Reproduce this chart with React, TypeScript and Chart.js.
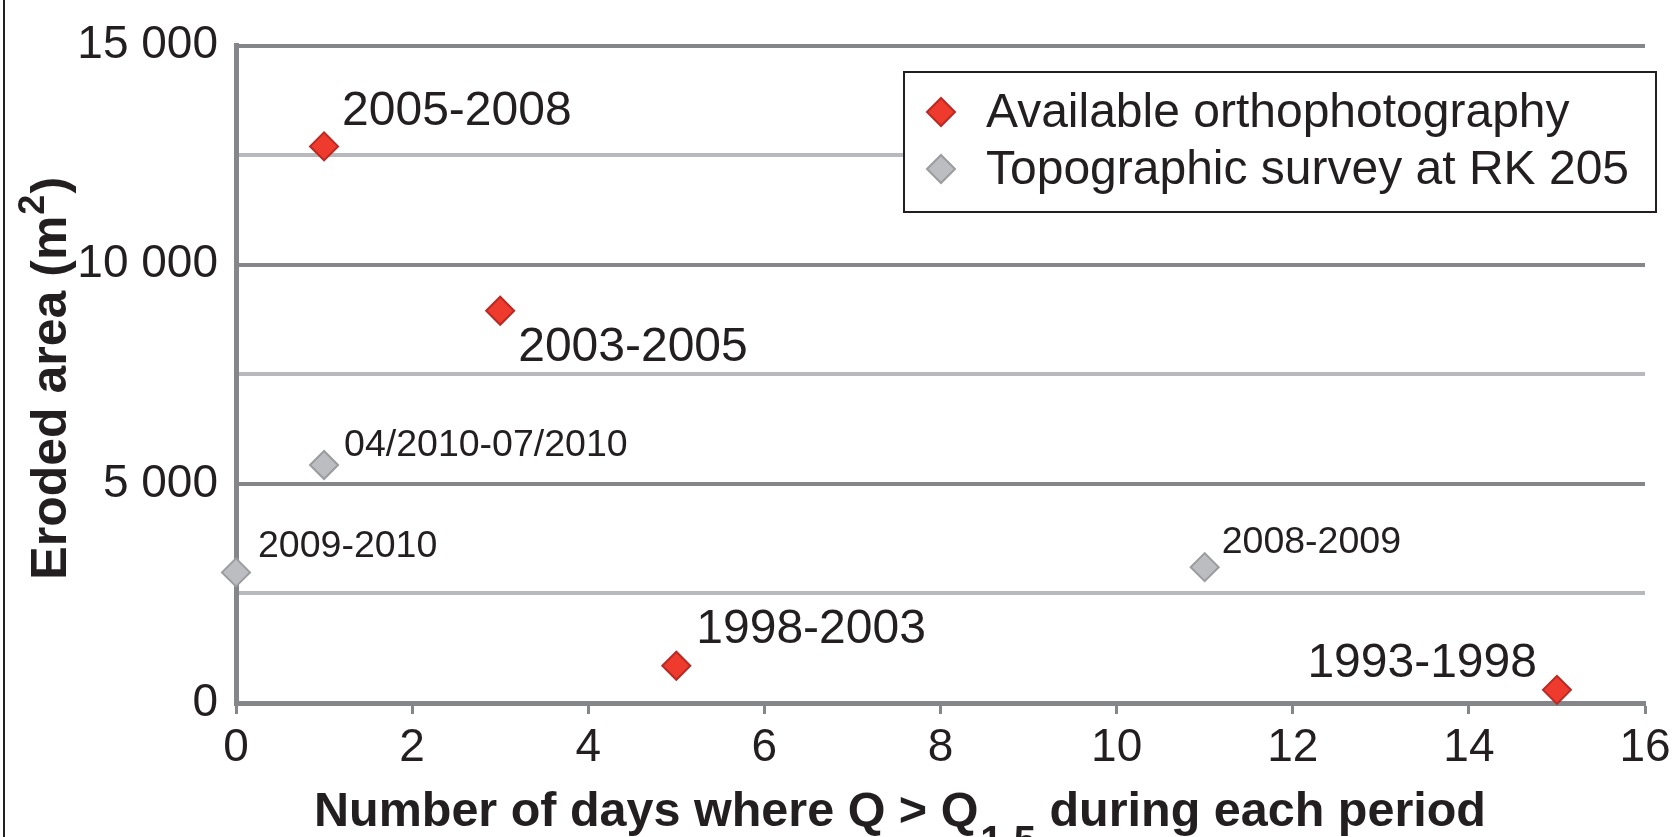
import React, { useEffect, useRef } from "react";
import { Chart, registerables } from "chart.js";

Chart.register(...registerables);

// ---- Data ----
const seriesNames = ["Available orthophotography", "Topographic survey at RK 205"];

const orthoDays = [1, 3, 5, 15];
const orthoArea = [12700, 8950, 850, 300];
const orthoLabels = ["2005-2008", "2003-2005", "1998-2003", "1993-1998"];

const surveyDays = [1, 0, 11];
const surveyArea = [5430, 2980, 3100];
const surveyLabels = ["04/2010-07/2010", "2009-2010", "2008-2009"];

const xMin = 0;
const xMax = 16;
const xStep = 2;
const yMin = 0;
const yMax = 15000;
const yGridStep = 2500;
const yLabelStep = 5000;

const xTitleMain = "Number of days where Q > Q";
const xTitleSub = "1.5";
const xTitleEnd = " during each period";
const yTitleMain = "Eroded area (m";
const yTitleSup = "2";
const yTitleEnd = ")";

// ---- Styling (kept separate from data) ----
const FONT = "'Liberation Sans', Arial, Helvetica, sans-serif";
const TEXT = "#231f20";
const AXIS_DARK = "#85868a";
const GRID_LIGHT = "#b8b9bc";
const RED_FILL = "#ee3b2d";
const RED_BORDER = "#b92a25";
const GRAY_FILL = "#bcbdc0";
const GRAY_BORDER = "#9a9ca0";

// label placement relative to each point: [dx, dy(baseline), align, fontSize]
const orthoLabelPlace: [number, number, CanvasTextAlign, number][] = [
  [18, -21, "left", 48],
  [18, 50, "left", 48],
  [20, -23, "left", 48],
  [-20, -13, "right", 48],
];
const surveyLabelPlace: [number, number, CanvasTextAlign, number][] = [
  [20, -9, "left", 37.5],
  [22, -15, "left", 37.5],
  [17, -14, "left", 37.5],
];

function fmtThousands(v: number): string {
  if (v === 0) return "0";
  const th = Math.floor(v / 1000);
  const rest = v % 1000;
  return `${th} ${String(rest).padStart(3, "0")}`;
}

function diamond(ctx: CanvasRenderingContext2D, x: number, y: number, r: number, fill: string, stroke: string) {
  ctx.beginPath();
  ctx.moveTo(x - r, y);
  ctx.lineTo(x, y - r);
  ctx.lineTo(x + r, y);
  ctx.lineTo(x, y + r);
  ctx.closePath();
  ctx.fillStyle = fill;
  ctx.fill();
  ctx.lineWidth = 2;
  ctx.strokeStyle = stroke;
  ctx.stroke();
}

const decorPlugin = {
  id: "decor",
  afterDatasetsDraw(chart: any) {
    const ctx: CanvasRenderingContext2D = chart.ctx;
    const ca = chart.chartArea;
    ctx.save();
    ctx.fillStyle = TEXT;
    ctx.textBaseline = "alphabetic";

    // point labels
    const groups: [string[], [number, number, CanvasTextAlign, number][]][] = [
      [orthoLabels, orthoLabelPlace],
      [surveyLabels, surveyLabelPlace],
    ];
    groups.forEach(([labels, place], di) => {
      const meta = chart.getDatasetMeta(di);
      meta.data.forEach((pt: any, i: number) => {
        const [dx, dy, align, size] = place[i];
        ctx.font = `${size}px ${FONT}`;
        ctx.textAlign = align;
        ctx.fillText(labels[i], pt.x + dx, pt.y + dy);
      });
    });

    // legend box
    const lx = 904, ly = 72, lw = 752, lh = 140;
    ctx.fillStyle = "#ffffff";
    ctx.fillRect(lx, ly, lw, lh);
    ctx.lineWidth = 2;
    ctx.strokeStyle = TEXT;
    ctx.strokeRect(lx, ly, lw, lh);
    ctx.font = `48px ${FONT}`;
    ctx.textAlign = "left";
    diamond(ctx, lx + 37, ly + 40, 14, RED_FILL, RED_BORDER);
    diamond(ctx, lx + 37, ly + 97, 14, GRAY_FILL, GRAY_BORDER);
    ctx.fillStyle = TEXT;
    ctx.fillText(chart.data.datasets[0].label, lx + 82, ly + 55);
    ctx.fillText(chart.data.datasets[1].label, lx + 82, ly + 112);

    // x axis title with subscript
    const xtY = 826;
    let x = ca.left + 78;
    ctx.font = `bold 48.5px ${FONT}`;
    ctx.fillText(xTitleMain, x, xtY);
    x += ctx.measureText(xTitleMain).width + 2;
    ctx.font = `bold 40px ${FONT}`;
    ctx.fillText(xTitleSub, x, xtY + 28);
    x += ctx.measureText(xTitleSub).width;
    ctx.font = `bold 48.5px ${FONT}`;
    ctx.fillText(xTitleEnd, x, xtY);

    // y axis title with superscript
    ctx.save();
    ctx.font = `bold 50px ${FONT}`;
    const w1 = ctx.measureText(yTitleMain).width;
    const w3 = ctx.measureText(yTitleEnd).width;
    ctx.font = `bold 36px ${FONT}`;
    const w2 = ctx.measureText(yTitleSup).width;
    const total = w1 + w2 + w3 + 2;
    const cy = (ca.top + ca.bottom) / 2 + 4;
    ctx.translate(66, cy);
    ctx.rotate(-Math.PI / 2);
    let t = -total / 2;
    ctx.font = `bold 50px ${FONT}`;
    ctx.fillText(yTitleMain, t, 0);
    t += w1 + 1;
    ctx.font = `bold 36px ${FONT}`;
    ctx.fillText(yTitleSup, t, -22);
    t += w2 + 1;
    ctx.font = `bold 50px ${FONT}`;
    ctx.fillText(yTitleEnd, t, 0);
    ctx.restore();

    // frame line on the left
    ctx.strokeStyle = TEXT;
    ctx.lineWidth = 2;
    ctx.beginPath();
    ctx.moveTo(4, 0);
    ctx.lineTo(4, chart.height);
    ctx.stroke();

    ctx.restore();
  },
};

export default function App() {
  const ref = useRef<HTMLCanvasElement | null>(null);

  useEffect(() => {
    if (!ref.current) return;
    const chart = new Chart(ref.current, {
      type: "scatter",
      data: {
        datasets: [
          {
            label: seriesNames[0],
            data: orthoDays.map((d, i) => ({ x: d, y: orthoArea[i] })),
            pointStyle: "rectRot",
            pointRadius: 14,
            pointBackgroundColor: RED_FILL,
            pointBorderColor: RED_BORDER,
            pointBorderWidth: 2,
            clip: false as any,
          },
          {
            label: seriesNames[1],
            data: surveyDays.map((d, i) => ({ x: d, y: surveyArea[i] })),
            pointStyle: "rectRot",
            pointRadius: 14,
            pointBackgroundColor: GRAY_FILL,
            pointBorderColor: GRAY_BORDER,
            pointBorderWidth: 2,
            clip: false as any,
          },
        ],
      },
      options: {
        animation: false,
        responsive: false,
        devicePixelRatio: 1,
        layout: { padding: { top: 43, right: 33, left: 0, bottom: 0 } },
        plugins: {
          legend: { display: false },
          tooltip: { enabled: false },
          title: { display: false },
        },
        scales: {
          x: {
            type: "linear",
            min: xMin,
            max: xMax,
            ticks: {
              stepSize: xStep,
              color: TEXT,
              font: { size: 46, family: FONT },
              padding: 7,
              maxRotation: 0,
              autoSkip: false,
            },
            grid: {
              drawOnChartArea: false,
              drawTicks: true,
              tickLength: 11,
              tickWidth: 3,
              tickColor: AXIS_DARK,
            },
            border: { color: AXIS_DARK, width: 5 },
            afterFit: (s: any) => {
              s.height = 134;
            },
          },
          y: {
            type: "linear",
            min: yMin,
            max: yMax,
            ticks: {
              stepSize: yGridStep,
              color: TEXT,
              font: { size: 46, family: FONT },
              padding: 18,
              callback: (v: any) => (Number(v) % yLabelStep === 0 ? fmtThousands(Number(v)) : ""),
            },
            grid: {
              drawTicks: false,
              lineWidth: 4,
              color: (c: any) =>
                c.tick && c.tick.value % yLabelStep === 0 ? AXIS_DARK : GRID_LIGHT,
            },
            border: { color: AXIS_DARK, width: 5 },
            afterFit: (s: any) => {
              s.width = 236;
            },
          },
        },
      },
      plugins: [decorPlugin],
    });
    return () => chart.destroy();
  }, []);

  return (
    <div style={{ position: "fixed", left: 0, top: 0, width: 1678, height: 837, background: "#ffffff" }}>
      <canvas ref={ref} width={1678} height={837} style={{ display: "block" }} />
    </div>
  );
}
